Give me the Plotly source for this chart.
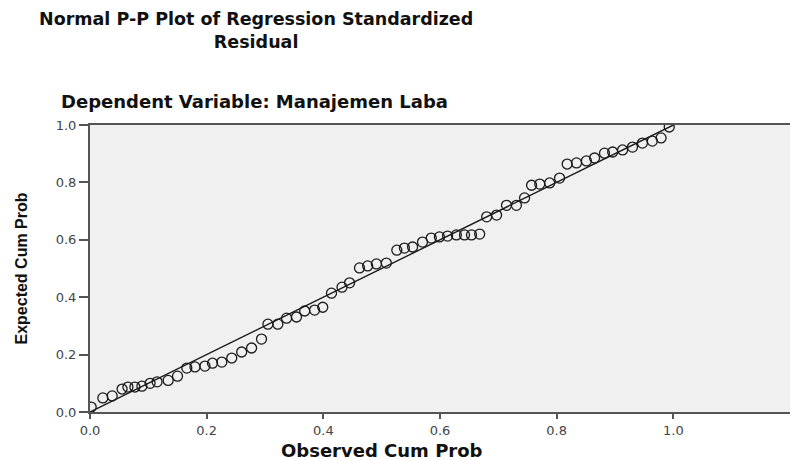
import plotly.graph_objects as go

# Observed cumulative probability (x) and expected cumulative probability (y)
observed_cum_prob = [
    0.002, 0.022, 0.038, 0.055, 0.065, 0.077, 0.089, 0.103, 0.115, 0.134,
    0.150, 0.166, 0.180, 0.197, 0.210, 0.226, 0.243, 0.260, 0.277, 0.294,
    0.305, 0.322, 0.337, 0.354, 0.368, 0.385, 0.399, 0.414, 0.432, 0.445,
    0.462, 0.476, 0.491, 0.508, 0.526, 0.539, 0.553, 0.570, 0.585, 0.599,
    0.613, 0.628, 0.642, 0.654, 0.668, 0.680, 0.697, 0.714, 0.731, 0.745,
    0.757, 0.771, 0.788, 0.805, 0.818, 0.834, 0.851, 0.865, 0.882, 0.896,
    0.913, 0.930, 0.947, 0.964, 0.979, 0.993,
]
expected_cum_prob = [
    0.017, 0.049, 0.056, 0.080, 0.087, 0.087, 0.090, 0.100, 0.105, 0.110,
    0.125, 0.153, 0.157, 0.160, 0.170, 0.174, 0.188, 0.209, 0.223, 0.254,
    0.306, 0.306, 0.327, 0.331, 0.352, 0.355, 0.365, 0.414, 0.435, 0.450,
    0.502, 0.509, 0.516, 0.519, 0.564, 0.571, 0.575, 0.592, 0.606, 0.610,
    0.613, 0.617, 0.617, 0.617, 0.620, 0.680, 0.686, 0.720, 0.720, 0.746,
    0.790, 0.794, 0.798, 0.815, 0.864, 0.868, 0.875, 0.885, 0.902, 0.906,
    0.913, 0.923, 0.937, 0.944, 0.955, 0.993,
]
reference_line_x = [0.0, 1.0]
reference_line_y = [0.0, 1.0]
tick_values = [0.0, 0.2, 0.4, 0.6, 0.8, 1.0]
tick_labels = ["0.0", "0.2", "0.4", "0.6", "0.8", "1.0"]

title_text = "Normal P-P Plot of Regression Standardized<br>Residual"
subtitle_text = "Dependent Variable: Manajemen Laba"
x_title = "Observed Cum Prob"
y_title = "Expected Cum Prob"

W, H = 791, 460
ML, MR, MT, MB = 90, 1, 125, 48
plot_w = W - ML - MR
plot_h = H - MT - MB


def px_to_paper_x(px):
    return (px - ML) / plot_w


def px_to_paper_y(py):
    return (H - MB - py) / plot_h


fig = go.Figure()
fig.add_trace(go.Scatter(
    x=reference_line_x, y=reference_line_y, mode="lines",
    line=dict(color="#1a1a1a", width=1.4), hoverinfo="skip", showlegend=False,
))
fig.add_trace(go.Scatter(
    x=observed_cum_prob, y=expected_cum_prob, mode="markers",
    marker=dict(symbol="circle-open", size=10, color="#1a1a1a",
                line=dict(width=1.3, color="#1a1a1a")),
    showlegend=False,
))

tick_font = dict(family="DejaVu Sans", size=13, color="#444444")

fig.update_layout(
    width=W, height=H,
    margin=dict(l=ML, r=MR, t=MT, b=MB, pad=0, autoexpand=False),
    paper_bgcolor="white",
    plot_bgcolor="#f0f0f0",
    xaxis=dict(
        range=[0, 1.2], tickvals=tick_values, ticktext=tick_labels,
        showgrid=False, zeroline=False, automargin=False,
        showline=True, linecolor="#555555", linewidth=2, mirror=True,
        ticks="outside", ticklen=5, tickwidth=2, tickcolor="#555555",
        tickfont=tick_font,
    ),
    yaxis=dict(
        range=[0, 1.0], tickvals=tick_values, ticktext=tick_labels,
        showgrid=False, zeroline=False, automargin=False,
        showline=True, linecolor="#555555", linewidth=2,
        ticks="outside", ticklen=9, tickwidth=1.5, tickcolor="#555555",
        tickfont=tick_font,
    ),
    annotations=[
        dict(text="<b>" + title_text + "</b>", xref="paper", yref="paper",
             x=px_to_paper_x(256), y=px_to_paper_y(30), showarrow=False,
             xanchor="center", yanchor="middle",
             font=dict(family="DejaVu Sans", size=17.5, color="#111111")),
        dict(text="<b>" + subtitle_text + "</b>", xref="paper", yref="paper",
             x=px_to_paper_x(254), y=px_to_paper_y(101), showarrow=False,
             xanchor="center", yanchor="middle",
             font=dict(family="DejaVu Sans", size=18, color="#111111")),
        dict(text="<b>" + x_title + "</b>", xref="x", yref="paper",
             x=0.5, y=px_to_paper_y(450), showarrow=False,
             xanchor="center", yanchor="middle",
             font=dict(family="DejaVu Sans", size=18, color="#111111")),
        dict(text="<b>" + y_title + "</b>", xref="paper", yref="y",
             x=px_to_paper_x(21), y=0.5, showarrow=False, textangle=-90,
             xanchor="center", yanchor="middle",
             font=dict(family="Liberation Sans", size=16,
                       color="#111111")),
    ],
)

fig.write_html(
    "out.html",
    config={"displayModeBar": False},
    post_script="document.body.style.margin='0';document.body.style.overflow='hidden';",
)
